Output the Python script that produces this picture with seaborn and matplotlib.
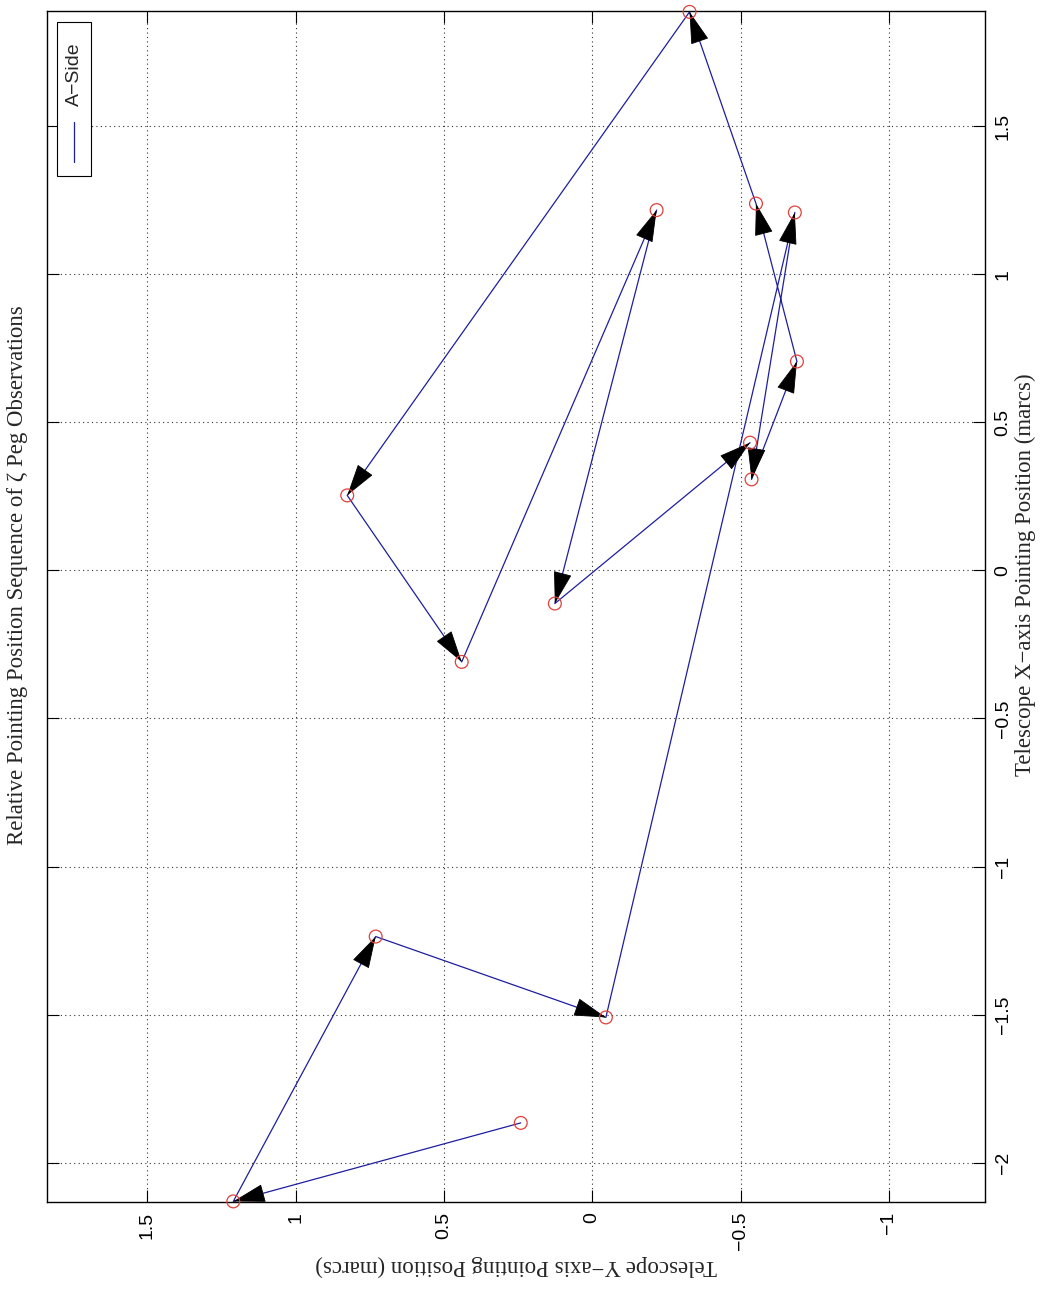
import matplotlib
matplotlib.use("Agg")
import matplotlib.pyplot as plt
import seaborn as sns
import numpy as np
import pandas as pd
from matplotlib.patches import Rectangle
from matplotlib.lines import Line2D

# ---- data (pointing sequence, in observation order) ----
x_pos = [-1.865, -2.130, -1.236, -1.509, 1.208, 0.307, 0.705, 1.238,
         1.885, 0.253, -0.309, 1.216, -0.112, 0.431]   # Telescope X-axis (marcs)
y_pos = [0.241, 1.210, 0.730, -0.046, -0.683, -0.537, -0.690, -0.552,
         -0.328, 0.826, 0.440, -0.217, 0.126, -0.532]  # Telescope Y-axis (marcs)
series_name = "A\u2212Side"
x_ticks = [-2, -1.5, -1, -0.5, 0, 0.5, 1, 1.5]
x_tick_labels = ["\u22122", "\u22121.5", "\u22121", "\u22120.5", "0", "0.5", "1", "1.5"]
y_ticks = [1.5, 1, 0.5, 0, -0.5, -1]
y_tick_labels = ["1.5", "1", "0.5", "0", "\u22120.5", "\u22121"]
title = "Relative Pointing Position Sequence of \u03b6 Peg Observations"
x_label = "Telescope X\u2212axis Pointing Position (marcs)"
y_label = "Telescope Y\u2212axis Pointing Position (marcs)"

df = pd.DataFrame({"order": np.arange(len(x_pos)), "X": x_pos, "Y": y_pos})

sns.set_style("white")
plt.rcParams["font.family"] = ["Liberation Sans", "DejaVu Sans"]

W, H = 1045, 1290
fig = plt.figure(figsize=(W / 100, H / 100), dpi=100)
L, R, T, B = 47, 985, 11, 1202
ax = fig.add_axes([L / W, (H - B) / H, (R - L) / W, (B - T) / H])

line_color = "#1e1ea0"
# path (figure is rotated: horizontal = telescope Y (inverted), vertical = telescope X)
sns.lineplot(data=df, x="Y", y="X", sort=False, estimator=None, ax=ax,
             color=line_color, linewidth=0.9, legend=False)
sns.scatterplot(data=df, x="Y", y="X", ax=ax, marker="o", s=85,
                facecolor="none", edgecolor="#e0403a", linewidth=0.9,
                legend=False, zorder=5, clip_on=False)

# arrowheads at each destination point
for i in range(1, len(df)):
    x0, y0 = df.Y[i - 1], df.X[i - 1]
    x1, y1 = df.Y[i], df.X[i]
    d = np.hypot(x1 - x0, y1 - y0)
    ux, uy = (x1 - x0) / d, (y1 - y0) / d
    ax.annotate("", xy=(x1, y1), xytext=(x1 - 0.08 * ux, y1 - 0.08 * uy),
                arrowprops=dict(arrowstyle="-|>,head_length=2.1,head_width=0.6",
                                mutation_scale=10, color="black", lw=0.6,
                                shrinkA=0, shrinkB=0), zorder=4)

ax.set_xlim(1.838, -1.324)
ax.set_ylim(-2.132, 1.888)
ax.set_xlabel("")
ax.set_ylabel("")

ax.set_xticks(y_ticks)
ax.set_xticklabels(y_tick_labels, rotation=90, va="top", ha="center", fontsize=14)
ax.set_yticks(x_ticks)
ax.set_yticklabels(x_tick_labels, rotation=90, va="center", ha="left", fontsize=14)
ax.tick_params(axis="both", direction="in", length=8.5, width=0.8,
               top=True, bottom=True, left=True, right=True,
               labelleft=False, labelright=True, labelbottom=True, labeltop=False,
               pad=7, colors="black")
ax.grid(True, linestyle=(0, (1, 3)), color="#333333", linewidth=0.8)
for s in ax.spines.values():
    s.set_visible(True)
    s.set_color("black")
    s.set_linewidth(1.0)

# legend (rotated, drawn in axes coordinates)
ax.add_patch(Rectangle(((57 - L) / (R - L), (B - 176) / (B - T)),
                       34 / (R - L), 154 / (B - T), transform=ax.transAxes,
                       facecolor="white", edgecolor="black", linewidth=0.8, zorder=10))
ax.add_line(Line2D([(74 - L) / (R - L)] * 2, [(B - 162) / (B - T), (B - 122) / (B - T)],
                   transform=ax.transAxes, color=line_color, linewidth=0.9, zorder=11))
ax.text((74 - L) / (R - L), (B - 74) / (B - T), series_name, rotation=90,
        transform=ax.transAxes, ha="center", va="center", fontsize=14, zorder=11)

serif = ["Liberation Serif", "DejaVu Serif"]
fig.text(516 / W, 1 - 1266 / H, y_label, rotation=180, ha="center", va="center",
         family=serif, fontsize=16.5)
fig.text(1025 / W, 1 - 575 / H, x_label, rotation=90, ha="center", va="center",
         family=serif, fontsize=16.5)
fig.text(18 / W, 1 - 575 / H, title, rotation=90, ha="center", va="center",
         family=serif, fontsize=16.5)

fig.savefig("out.png", dpi=100)
